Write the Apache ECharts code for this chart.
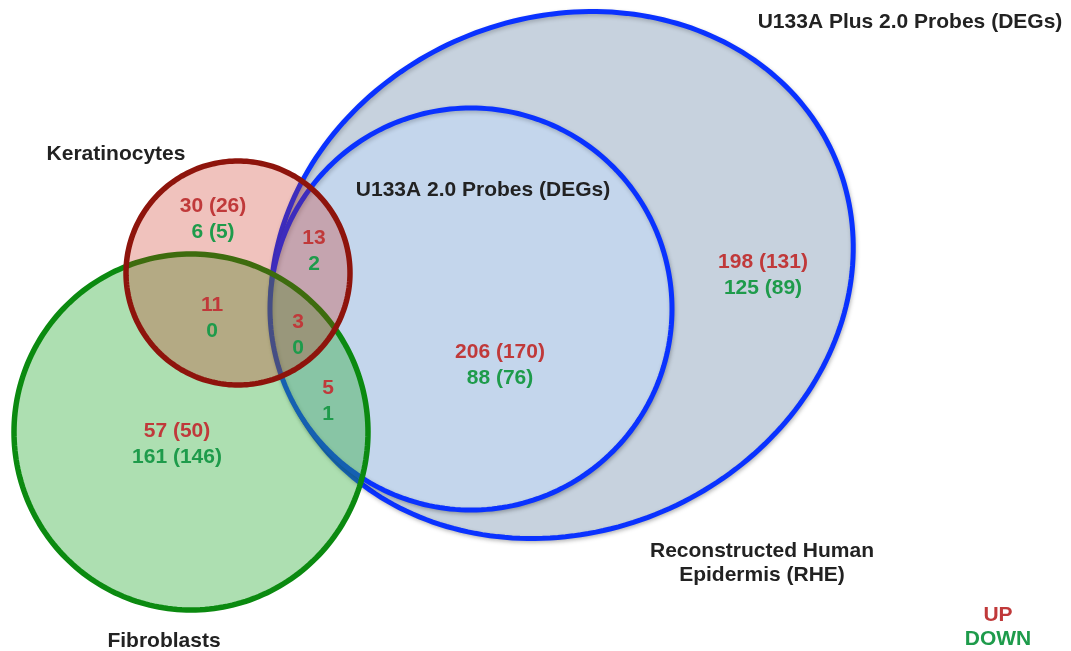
<!DOCTYPE html>
<html>
<head>
<meta charset="utf-8">
<script src="https://cdn.jsdelivr.net/npm/echarts@6/dist/echarts.min.js"></script>
<style>html,body{margin:0;padding:0;background:#fff}#chart{width:1071px;height:651px}</style>
</head>
<body>
<div id="chart"></div>
<script>
// ---- data ----
const setNames = ['U133A Plus 2.0 Probes (DEGs)', 'U133A 2.0 Probes (DEGs)', 'Fibroblasts', 'Keratinocytes'];
const regionNames = ['Keratinocytes only', 'Keratinocytes ∩ U133A', 'Keratinocytes ∩ Fibroblasts', 'Keratinocytes ∩ Fibroblasts ∩ U133A',
  'Fibroblasts ∩ U133A', 'Fibroblasts only', 'U133A 2.0 only', 'U133A Plus 2.0 only'];
const upCounts   = [30, 13, 11, 3, 5, 57, 206, 198];
const upUnique   = [26, null, null, null, null, 50, 170, 131];
const downCounts = [6, 2, 0, 0, 1, 161, 88, 125];
const downUnique = [5, null, null, null, null, 146, 76, 89];
const rheLabel = ['Reconstructed Human', 'Epidermis (RHE)'];
const legendLabels = ['UP', 'DOWN'];

// ---- layout (positions / sizes / styles) ----
const shapeLayout = [
  {cx: 562, cy: 275, rx: 297, ry: 257, ang: -23, fill: '#C7D2DE', stroke: '#0A32FF', lw: 5, shadow: true},
  {cx: 471, cy: 309, rx: 201, ry: 201, ang: 0, fill: '#C4D6EC', stroke: '#0A32FF', lw: 5, shadow: true},
  {cx: 191, cy: 432, rx: 177, ry: 178, ang: 0, fill: 'rgba(40,170,50,0.38)', stroke: '#0B8A10', lw: 5.5, shadow: false},
  {cx: 238, cy: 273, rx: 112, ry: 112, ang: 0, fill: 'rgba(200,30,10,0.27)', stroke: '#8E140C', lw: 5.5, shadow: false}
];
const regionPos = [[213, 206], [314, 238], [212, 305], [298, 322], [328, 388], [177, 431], [500, 352], [763, 262]];
const setLabelPos = [[910, 22], [483, 190], [164, 641], [116, 154]];
const rhePos = [[762, 551], [762, 575]];
const legendPos = [[998, 615], [998, 639]];
const RED = '#C0393A', GREEN = '#1E9B4B', BLACK = '#222222';
const FONT = 'bold 21px "Liberation Sans", Arial, Helvetica, sans-serif';

function ellipsePoints(api, s) {
  const pts = [], a = s.ang * Math.PI / 180;
  for (let k = 0; k < 360; k += 1.5) {
    const t = k * Math.PI / 180;
    const ex = s.rx * Math.cos(t), ey = s.ry * Math.sin(t);
    pts.push(api.coord([s.cx + ex * Math.cos(a) - ey * Math.sin(a), s.cy + ex * Math.sin(a) + ey * Math.cos(a)]));
  }
  return pts;
}

const fmt = (n, u) => u == null ? String(n) : n + ' (' + u + ')';
const texts = [];
regionNames.forEach((r, i) => {
  texts.push({x: regionPos[i][0], y: regionPos[i][1], t: fmt(upCounts[i], upUnique[i]), c: RED});
  texts.push({x: regionPos[i][0], y: regionPos[i][1] + 26, t: fmt(downCounts[i], downUnique[i]), c: GREEN});
});
setNames.forEach((n, i) => texts.push({x: setLabelPos[i][0], y: setLabelPos[i][1], t: n, c: BLACK}));
rheLabel.forEach((n, i) => texts.push({x: rhePos[i][0], y: rhePos[i][1], t: n, c: BLACK}));
legendLabels.forEach((n, i) => texts.push({x: legendPos[i][0], y: legendPos[i][1], t: n, c: i === 0 ? RED : GREEN}));

const chart = echarts.init(document.getElementById('chart'), null, {renderer: 'canvas'});
chart.setOption({
  backgroundColor: '#ffffff',
  animation: false,
  grid: {left: 0, right: 0, top: 0, bottom: 0},
  xAxis: {type: 'value', min: 0, max: 1071, show: false},
  yAxis: {type: 'value', min: 0, max: 651, inverse: true, show: false},
  series: [
    {
      type: 'custom', coordinateSystem: 'cartesian2d', clip: false, silent: true,
      data: shapeLayout.map((s, i) => [s.cx, s.cy, i]),
      renderItem: function (params, api) {
        const s = shapeLayout[params.dataIndex];
        const style = {fill: s.fill, stroke: s.stroke, lineWidth: s.lw};
        if (s.shadow) {
          style.shadowBlur = 4; style.shadowColor = 'rgba(0,0,0,0.22)';
          style.shadowOffsetX = 1; style.shadowOffsetY = 2;
        }
        return {type: 'polygon', shape: {points: ellipsePoints(api, s)}, style: style};
      }
    },
    {
      type: 'custom', coordinateSystem: 'cartesian2d', clip: false, silent: true, z: 5,
      data: texts.map(t => [t.x, t.y]),
      renderItem: function (params, api) {
        const t = texts[params.dataIndex];
        const p = api.coord([t.x, t.y]);
        return {
          type: 'text',
          style: {text: t.t, x: p[0], y: p[1], fill: t.c, font: FONT, align: 'center', verticalAlign: 'middle'}
        };
      }
    }
  ]
});
</script>
</body>
</html>
